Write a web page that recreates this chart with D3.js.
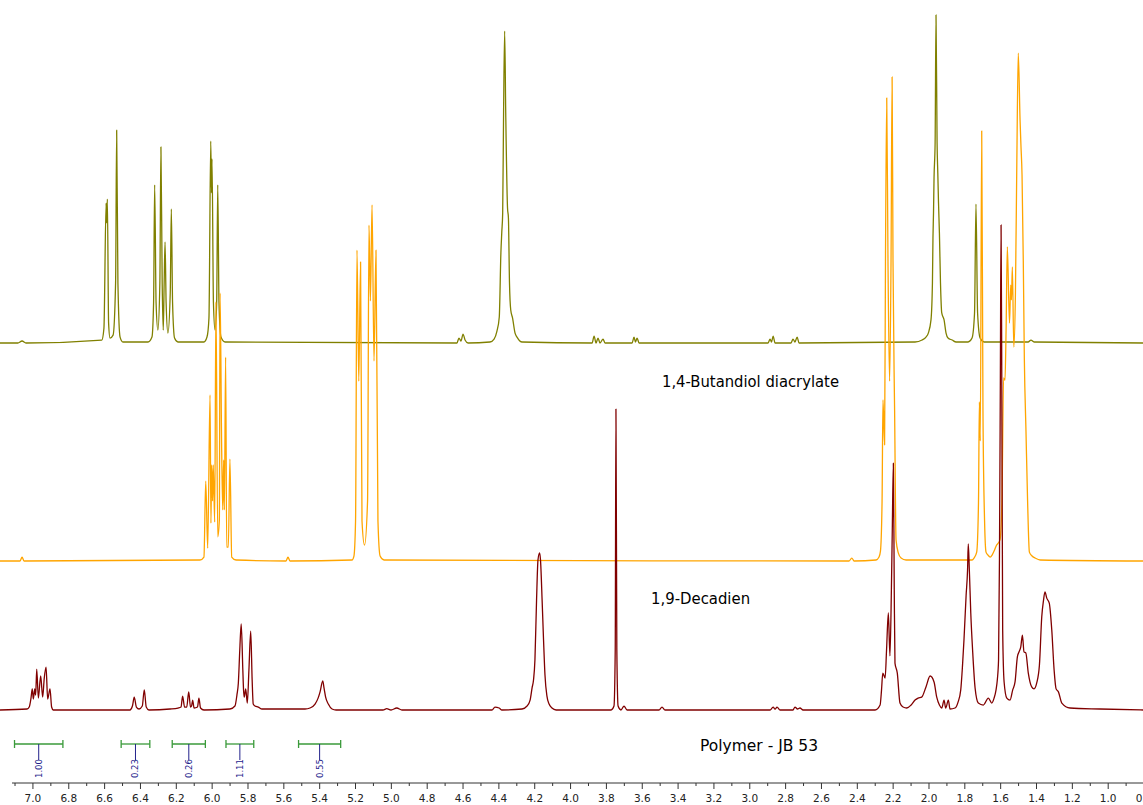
<!DOCTYPE html>
<html>
<head>
<meta charset="utf-8">
<script src="https://cdn.jsdelivr.net/npm/d3@7"></script>
<style>
    body { margin: 0; background: #fff; }
    svg { display: block; }
    .spec-label { font-family: "DejaVu Sans", Verdana, sans-serif; font-size: 15.4px; fill: #000; }
    .tick text { font-family: "DejaVu Sans", Verdana, sans-serif; font-size: 10.5px; fill: #222; }
    .int-label { font-family: "DejaVu Sans", Verdana, sans-serif; font-size: 8.5px; fill: #22228b; }
</style>
</head>
<body>
<div id="nmr"></div>
<script>

// Spectra: [chemical shift (ppm), intensity (a.u.)]
// ============================================
var butandiolSpectrum = [
    [7.181, 0], [7.081, 0], [7.058, 0.6], [7.036, 0],
    [6.613, 0.9], [6.601, 4.5], [6.589, 42.4], [6.586, 36.4], [6.582, 43.6], [6.575, 6.1], [6.567, 1.5],
    [6.550, 2.4], [6.536, 18.2], [6.530, 64.5], [6.523, 18.2], [6.511, 1.8], [6.495, 0.3],
    [6.355, 0.3], [6.333, 1.8], [6.324, 12.1], [6.318, 47.9], [6.310, 12.1], [6.300, 3.9],
    [6.289, 18.2], [6.283, 59.4], [6.276, 18.2], [6.270, 3.9], [6.265, 18.2], [6.260, 30.6],
    [6.254, 12.1], [6.244, 3.0], [6.231, 15.2], [6.225, 40.6], [6.218, 12.1], [6.207, 1.5], [6.188, 0.3],
    [6.043, 0.3], [6.026, 1.8], [6.015, 7.6], [6.005, 61.2], [6.001, 45.5], [5.998, 55.8], [5.990, 12.1],
    [5.981, 3.9], [5.972, 12.1], [5.966, 47.9], [5.959, 12.1], [5.948, 1.8], [5.925, 0.3],
    [4.631, 0], [4.620, 1.5], [4.609, 0.6], [4.597, 2.7], [4.586, 0.9], [4.569, 0],
    [4.447, 0.3], [4.424, 1.2], [4.408, 3.6], [4.395, 7.9], [4.386, 27.3], [4.381, 33.6], [4.376, 39.4],
    [4.371, 69.7], [4.365, 94.5], [4.359, 69.7], [4.349, 40.9], [4.344, 37.9], [4.338, 18.2],
    [4.331, 10.0], [4.321, 7.6], [4.307, 3.0], [4.296, 1.8], [4.268, 0.3],
    [3.877, 0], [3.866, 2.1], [3.855, 0], [3.844, 1.5], [3.833, 0], [3.816, 1.2], [3.805, 0],
    [3.654, 0], [3.643, 1.8], [3.635, 0.3], [3.626, 1.5], [3.615, 0],
    [2.895, 0], [2.884, 1.2], [2.876, 0.3], [2.867, 2.1], [2.856, 0],
    [2.767, 0], [2.756, 1.2], [2.745, 0.3], [2.733, 1.8], [2.722, 0],
    [2.075, 0.3], [2.036, 0.9], [2.014, 1.8], [2.001, 3.0], [1.986, 7.0], [1.978, 18.2], [1.975, 31.8],
    [1.972, 39.4], [1.969, 50.0], [1.963, 60.6], [1.958, 99.4], [1.952, 60.6], [1.948, 51.5],
    [1.944, 42.4], [1.939, 33.3], [1.933, 18.2], [1.926, 9.1], [1.913, 7.0], [1.902, 3.0],
    [1.891, 1.5], [1.868, 0.9], [1.846, 0.3],
    [1.779, 0.3], [1.757, 1.5], [1.743, 9.1], [1.735, 42.1], [1.726, 9.1], [1.712, 1.5], [1.690, 0.3],
    [1.444, 0.3], [1.428, 0.9], [1.411, 0.3], [0.803, 0]
];

var decadienSpectrum = [
    [7.181, 0], [7.069, 0], [7.058, 1.2], [7.047, 0],
    [6.065, 0.3], [6.043, 1.2], [6.033, 24.2], [6.022, 3.9], [6.009, 50.3], [6.004, 11.5],
    [6.000, 29.1], [5.995, 18.2], [5.991, 29.1], [5.983, 11.8], [5.976, 78.5], [5.966, 7.3],
    [5.957, 12.4], [5.953, 81.2], [5.944, 33.6], [5.938, 15.5], [5.933, 30.6], [5.929, 15.5],
    [5.922, 61.8], [5.916, 4.2], [5.907, 4.2], [5.898, 30.9], [5.888, 1.2], [5.864, 0.3],
    [5.585, 0], [5.574, 1.2], [5.563, 0],
    [5.217, 0.3], [5.206, 1.5], [5.197, 12.1], [5.189, 94.2], [5.179, 54.5], [5.169, 90.6],
    [5.161, 12.1], [5.147, 4.8], [5.130, 18.2], [5.122, 101.8], [5.114, 78.8], [5.105, 107.9],
    [5.094, 60.6], [5.083, 94.2], [5.072, 12.1], [5.060, 1.5], [5.038, 0.3],
    [2.443, 0], [2.428, 0.9], [2.415, 0],
    [2.293, 0.3], [2.276, 1.2], [2.268, 3.0], [2.259, 18.2], [2.254, 48.8], [2.245, 35.2],
    [2.240, 90.9], [2.233, 140.3], [2.226, 90.9], [2.217, 54.5], [2.209, 90.9], [2.203, 146.7],
    [2.198, 90.9], [2.189, 45.5], [2.181, 6.4], [2.168, 2.4], [2.153, 0.9], [2.125, 0.3],
    [1.757, 0.3], [1.746, 0.9], [1.731, 2.7], [1.721, 17.6], [1.716, 48.2], [1.711, 36.4],
    [1.703, 130.3], [1.696, 45.5], [1.687, 12.1], [1.679, 2.7], [1.668, 1.8], [1.656, 1.2],
    [1.645, 1.8], [1.634, 3.0], [1.623, 4.5],
    [1.601, 6.4], [1.590, 18.5], [1.581, 55.5], [1.573, 54.8], [1.567, 70.0], [1.560, 95.2],
    [1.548, 72.1], [1.541, 83.6], [1.537, 79.1], [1.532, 89.1], [1.524, 64.8], [1.515, 80.6],
    [1.507, 121.2], [1.499, 153.9], [1.489, 133.6], [1.484, 125.8], [1.478, 117.0], [1.471, 90.9],
    [1.465, 60.9], [1.456, 39.4], [1.447, 18.2], [1.437, 2.7], [1.422, 1.5], [1.405, 0.9],
    [1.377, 0.3], [0.803, 0]
];

var polymerSpectrum = [
    [7.181, 0], [7.030, 0.3], [7.018, 0.9], [7.008, 3.6], [7.001, 6.4], [6.995, 3.3], [6.987, 6.4],
    [6.982, 4.5], [6.976, 12.4], [6.967, 3.6], [6.954, 10.3], [6.943, 3.9], [6.934, 9.7],
    [6.924, 13.0], [6.915, 3.3], [6.902, 6.4], [6.893, 0.9], [6.884, 0],
    [6.456, 0], [6.442, 1.2], [6.432, 3.9], [6.420, 0.9], [6.405, 0.3], [6.387, 1.2],
    [6.376, 6.1], [6.365, 0.9], [6.350, 0],
    [6.232, 0.3], [6.188, 0.6], [6.171, 0.9], [6.162, 4.2], [6.151, 0.9], [6.139, 0.9],
    [6.128, 5.5], [6.118, 0.9], [6.112, 1.2], [6.106, 3.0], [6.098, 0.6], [6.079, 0.9],
    [6.071, 3.6], [6.062, 0.6], [6.043, 0],
    [5.898, 0.3], [5.870, 1.2], [5.859, 4.5], [5.851, 8.2], [5.843, 18.2], [5.835, 26.1],
    [5.826, 12.1], [5.822, 6.1], [5.818, 3.9], [5.810, 6.4], [5.801, 2.1], [5.792, 12.1],
    [5.782, 23.9], [5.774, 9.1], [5.768, 1.8], [5.758, 1.2], [5.740, 0.9], [5.719, 0.3],
    [5.479, 0.3], [5.451, 0.6], [5.423, 1.8], [5.406, 3.6], [5.395, 5.5], [5.380, 8.8],
    [5.373, 6.7], [5.364, 3.9], [5.349, 1.8], [5.328, 0.3], [5.306, 0],
    [5.044, 0], [5.023, 0.4], [4.999, 0], [4.967, 0.6], [4.938, 0],
    [4.436, 0], [4.419, 0.9], [4.396, 0.6], [4.380, 0],
    [4.268, 0.3], [4.240, 1.2], [4.223, 3.0], [4.212, 6.7], [4.204, 9.1], [4.196, 15.2],
    [4.187, 33.3], [4.179, 45.5], [4.170, 47.6], [4.165, 45.5], [4.156, 33.3], [4.148, 21.2],
    [4.140, 10.6], [4.129, 4.2], [4.117, 1.8], [4.101, 0.6], [4.078, 0],
    [3.771, 0], [3.755, 1.2], [3.748, 18.2], [3.744, 91.2], [3.739, 18.2], [3.732, 1.2],
    [3.716, 0], [3.699, 1.2], [3.682, 0],
    [3.504, 0], [3.487, 0.9], [3.470, 0],
    [2.884, 0], [2.867, 0.9], [2.856, 0.3], [2.845, 0.9], [2.828, 0],
    [2.756, 0], [2.745, 0.9], [2.731, 0.3], [2.717, 0.6], [2.700, 0],
    [2.298, 0], [2.270, 1.5], [2.262, 6.1], [2.255, 11.2], [2.242, 9.7], [2.234, 18.2],
    [2.224, 29.4], [2.215, 16.4], [2.207, 36.4], [2.202, 54.5], [2.196, 74.8], [2.191, 36.4],
    [2.187, 14.2], [2.174, 11.2], [2.159, 2.1], [2.142, 0.9], [2.121, 0.6], [2.097, 1.5],
    [2.075, 3.0], [2.058, 3.6], [2.038, 3.9], [2.014, 7.0], [1.991, 10.3], [1.969, 8.5],
    [1.954, 3.9], [1.939, 1.5], [1.926, 0.6], [1.913, 3.0], [1.904, 0.6], [1.889, 3.0],
    [1.880, 0.3], [1.852, 0.6], [1.835, 2.4], [1.820, 6.1], [1.810, 13.6], [1.802, 21.2],
    [1.790, 34.8], [1.782, 42.4], [1.778, 50.3], [1.772, 42.4], [1.764, 29.4], [1.753, 17.3],
    [1.740, 6.7], [1.722, 2.1], [1.694, 1.5], [1.666, 3.6], [1.647, 2.1], [1.634, 3.6],
    [1.623, 6.1], [1.616, 9.1], [1.609, 15.2], [1.604, 45.5], [1.599, 100], [1.595, 147],
    [1.591, 100], [1.586, 24.2], [1.578, 8.5], [1.563, 3.6], [1.545, 3.0], [1.530, 6.1],
    [1.517, 8.5], [1.504, 16.1], [1.495, 17.6], [1.485, 19.1], [1.476, 22.7], [1.467, 17.6],
    [1.457, 17.3], [1.443, 11.2], [1.424, 7.0], [1.411, 6.4], [1.396, 8.2], [1.381, 13.6],
    [1.368, 28.2], [1.358, 33.3], [1.350, 35.8], [1.340, 33.9], [1.326, 32.4], [1.312, 24.2],
    [1.299, 12.1], [1.288, 6.4], [1.275, 5.5], [1.256, 2.1], [1.210, 0.6], [1.043, 0.3],
    [0.803, 0]
];

// Integrals of the polymer spectrum
// ============================================
var integralFrom = [7.10, 6.505, 6.22, 5.92, 5.515];
var integralTo = [6.83, 6.345, 6.035, 5.765, 5.28];
var integralValues = ["1.00", "0.23", "0.26", "1.11", "0.55"];

// Axis ticks
// ============================================
var majorTicks = d3.range(4, 36).map(i => i / 5);     // 0.8 ... 7.0
var minorTicks = d3.range(8, 72).map(i => i / 10).filter(v => Math.round(v * 10) % 2 === 1);

// Chart set up
// ============================================
var svgWidth = 1143;
var svgHeight = 805;

var svg = d3.select("#nmr")
    .append("svg")
    .attr("width", svgWidth)
    .attr("height", svgHeight);

svg.append("rect")
    .attr("width", svgWidth)
    .attr("height", svgHeight)
    .attr("fill", "#fff");

// chemical shift runs right to left
var xScale = d3.scaleLinear().domain([7.181, 0.803]).range([0, svgWidth]);
// intensity -> pixel height
var hScale = d3.scaleLinear().domain([0, 100]).range([0, 330]);

var traces = [
    { data: butandiolSpectrum, color: "#808000", baseline: 343, label: "1,4-Butandiol diacrylate", lx: 3.487, ly: 387, len: 177 },
    { data: decadienSpectrum, color: "#ffa500", baseline: 561, label: "1,9-Decadien", lx: 3.548, ly: 604, len: 99 },
    { data: polymerSpectrum, color: "#800000", baseline: 710, label: "Polymer - JB 53", lx: 3.275, ly: 751, len: 118 }
];

// Draw spectra
// ============================================
traces.forEach(t => {
    var line = d3.line()
        .x(d => xScale(d[0]))
        .y(d => t.baseline - hScale(d[1]))
        .curve(d3.curveMonotoneX);

    svg.append("path")
        .datum(t.data)
        .attr("d", line)
        .attr("fill", "none")
        .attr("stroke", t.color)
        .attr("stroke-width", 1.3)
        .attr("stroke-linejoin", "round");
});

// Spectrum labels
traces.forEach(t => {
    svg.append("text")
        .attr("class", "spec-label")
        .attr("x", xScale(t.lx))
        .attr("y", t.ly)
        .attr("textLength", t.len)
        .attr("lengthAdjust", "spacingAndGlyphs")
        .text(t.label);
});

// Integrals
// ============================================
var barY = 744;
var intGroup = svg.append("g");

integralFrom.forEach((f, i) => {
    var x0 = xScale(f);
    var x1 = xScale(integralTo[i]);
    var xc = (x0 + x1) / 2;
    var g = intGroup.append("g");

    g.append("line")
        .attr("x1", x0).attr("x2", x1)
        .attr("y1", barY).attr("y2", barY)
        .attr("stroke", "#3a9a3a").attr("stroke-width", 1.3);

    [x0, x1].forEach(xx => {
        g.append("line")
            .attr("x1", xx).attr("x2", xx)
            .attr("y1", barY - 4).attr("y2", barY + 4)
            .attr("stroke", "#3a9a3a").attr("stroke-width", 1.3);
    });

    g.append("line")
        .attr("x1", xc).attr("x2", xc)
        .attr("y1", barY).attr("y2", barY + 16)
        .attr("stroke", "#22228b").attr("stroke-width", 1);

    g.append("text")
        .attr("class", "int-label")
        .attr("transform", `translate(${xc + 3}, ${barY + 34}) rotate(-90)`)
        .text(integralValues[i]);
});

// Axis
// ============================================
var axisY = 783;

svg.append("line")
    .attr("x1", 12).attr("x2", svgWidth)
    .attr("y1", axisY).attr("y2", axisY)
    .attr("stroke", "#333").attr("stroke-width", 1);

var majorAxis = d3.axisBottom(xScale)
    .tickValues(majorTicks)
    .tickSize(6)
    .tickPadding(6)
    .tickFormat(d3.format(".1f"));

var minorAxis = d3.axisBottom(xScale)
    .tickValues(minorTicks)
    .tickSize(3)
    .tickFormat("");

svg.append("g")
    .attr("transform", `translate(0, ${axisY})`)
    .call(minorAxis)
    .call(g => g.select(".domain").remove())
    .call(g => g.selectAll(".tick line").attr("stroke", "#333"));

svg.append("g")
    .attr("transform", `translate(0, ${axisY})`)
    .call(majorAxis)
    .call(g => g.select(".domain").remove())
    .call(g => g.selectAll(".tick line").attr("stroke", "#333"));

</script>
</body>
</html>
